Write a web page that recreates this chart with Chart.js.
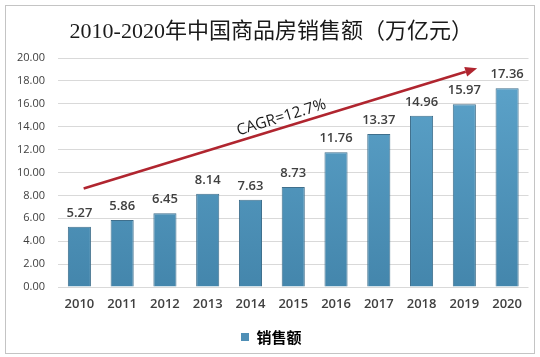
<!DOCTYPE html>
<html>
<head>
<meta charset="utf-8">
<script src="https://cdn.jsdelivr.net/npm/chart.js@4/dist/chart.umd.min.js"></script>
<style>
  html, body { margin: 0; padding: 0; background: #ffffff; }
  #wrap { width: 540px; height: 357px; position: relative; }
</style>
</head>
<body>
<div id="wrap"><canvas id="c" width="540" height="357"></canvas></div>
<script>
// ---- data ----
const categories = ['2010','2011','2012','2013','2014','2015','2016','2017','2018','2019','2020'];
const salesValues = [5.27, 5.86, 6.45, 8.14, 7.63, 8.73, 11.76, 13.37, 14.96, 15.97, 17.36];
const yTicks = [0, 2, 4, 6, 8, 10, 12, 14, 16, 18, 20];
const seriesName = '销售额';
const chartTitle = '2010-2020年中国商品房销售额（万亿元）';
const trendLabel = 'CAGR=12.7%';
// trend arrow in data units: [category index, value]
const trendStart = [0.1, 8.6];
const trendEnd = [9.3, 19.1];

const barGradient = (ctx) => {
  const chart = ctx.chart;
  const area = chart.chartArea;
  if (!area) return '#4f93bb';
  const g = chart.ctx.createLinearGradient(0, area.top, 0, area.bottom);
  g.addColorStop(0, '#5ea5cc');
  g.addColorStop(1, '#4486ac');
  return g;
};

const framePlugin = {
  id: 'frame',
  beforeDraw(chart) {
    const c = chart.ctx;
    c.save();
    c.fillStyle = '#ffffff';
    c.fillRect(0, 0, chart.width, chart.height);
    c.restore();
  },
  afterDraw(chart) {
    const c = chart.ctx;
    c.save();
    c.strokeStyle = '#c4c4c4';
    c.lineWidth = 1;
    c.strokeRect(5.5, 5.5, 529, 348);
    c.restore();
  }
};

const labelPlugin = {
  id: 'valueLabels',
  afterDatasetsDraw(chart) {
    const c = chart.ctx;
    const meta = chart.getDatasetMeta(0);
    c.save();
    c.font = '600 13px "Open Sans", sans-serif';
    c.fillStyle = '#404040';
    c.textAlign = 'center';
    c.textBaseline = 'alphabetic';
    meta.data.forEach((bar, i) => {
      c.fillText(salesValues[i].toFixed(2), bar.x, bar.y - 10);
    });
    c.restore();
  }
};

const trendPlugin = {
  id: 'trendArrow',
  afterDatasetsDraw(chart) {
    const xs = chart.scales.x, ys = chart.scales.y;
    const x1 = xs.getPixelForValue(trendStart[0]), y1 = ys.getPixelForValue(trendStart[1]);
    const x2 = xs.getPixelForValue(trendEnd[0]), y2 = ys.getPixelForValue(trendEnd[1]);
    const ang = Math.atan2(y2 - y1, x2 - x1);
    const headLen = 12, headHalf = 5;
    const bx = x2 - headLen * Math.cos(ang), by = y2 - headLen * Math.sin(ang);
    const c = chart.ctx;
    c.save();
    c.strokeStyle = '#b0252f';
    c.fillStyle = '#b0252f';
    c.lineWidth = 2.5;
    c.beginPath();
    c.moveTo(x1, y1);
    c.lineTo(bx, by);
    c.stroke();
    c.beginPath();
    c.moveTo(x2, y2);
    c.lineTo(bx - headHalf * Math.sin(ang), by + headHalf * Math.cos(ang));
    c.lineTo(bx + headHalf * Math.sin(ang), by - headHalf * Math.cos(ang));
    c.closePath();
    c.fill();
    // label along the line
    const t = 0.51;
    const mx = x1 + (x2 - x1) * t, my = y1 + (y2 - y1) * t;
    const off = 10;
    const tx = mx + off * Math.sin(ang), ty = my - off * Math.cos(ang);
    c.translate(tx, ty);
    c.rotate(ang);
    c.font = '15.5px "Open Sans", sans-serif';
    c.fillStyle = '#1a1a1a';
    c.textAlign = 'center';
    c.textBaseline = 'middle';
    c.fillText(trendLabel, 0, 0);
    c.restore();
  }
};

new Chart(document.getElementById('c'), {
  type: 'bar',
  data: {
    labels: categories,
    datasets: [{
      label: seriesName,
      data: salesValues,
      backgroundColor: barGradient,
      borderColor: '#3f6f8c',
      borderWidth: 1,
      categoryPercentage: 1.0,
      barPercentage: 0.54
    }]
  },
  options: {
    responsive: false,
    animation: false,
    devicePixelRatio: 1,
    layout: { padding: { left: 14, right: 11.5, top: 0, bottom: 2.4 } },
    plugins: {
      title: {
        display: true,
        text: chartTitle,
        color: '#1a1a1a',
        font: { size: 22, family: '"Liberation Serif", "Noto Sans CJK SC", serif', weight: 'normal', lineHeight: 1.2 },
        padding: { top: 18.8, bottom: 12.8 }
      },
      legend: {
        display: true,
        position: 'bottom',
        labels: {
          boxWidth: 8,
          boxHeight: 8,
          padding: 9,
          color: '#404040',
          font: { size: 15, family: '"Noto Sans CJK SC", sans-serif', weight: 'bold' },
          generateLabels(chart) {
            return [{
              text: seriesName,
              fillStyle: '#4f8fb6',
              strokeStyle: '#4f8fb6',
              lineWidth: 0,
              hidden: false,
              datasetIndex: 0
            }];
          }
        }
      },
      tooltip: { enabled: false }
    },
    scales: {
      x: {
        grid: { display: false, drawTicks: false },
        border: { display: false },
        ticks: {
          color: '#404040',
          padding: 9,
          font: { size: 13, family: '"Open Sans", sans-serif', weight: '600', lineHeight: 1.2 }
        }
      },
      y: {
        min: 0,
        max: 20,
        afterFit(scale) { scale.width = 44; },
        afterBuildTicks(scale) { scale.ticks = yTicks.map(v => ({ value: v })); },
        grid: { color: '#d9d9d9', lineWidth: 1, drawTicks: false },
        border: { display: false },
        ticks: {
          color: '#404040',
          padding: 13,
          font: { size: 11, family: '"Open Sans", sans-serif' },
          callback: (v) => Number(v).toFixed(2)
        }
      }
    }
  },
  plugins: [framePlugin, labelPlugin, trendPlugin]
});
</script>
</body>
</html>
